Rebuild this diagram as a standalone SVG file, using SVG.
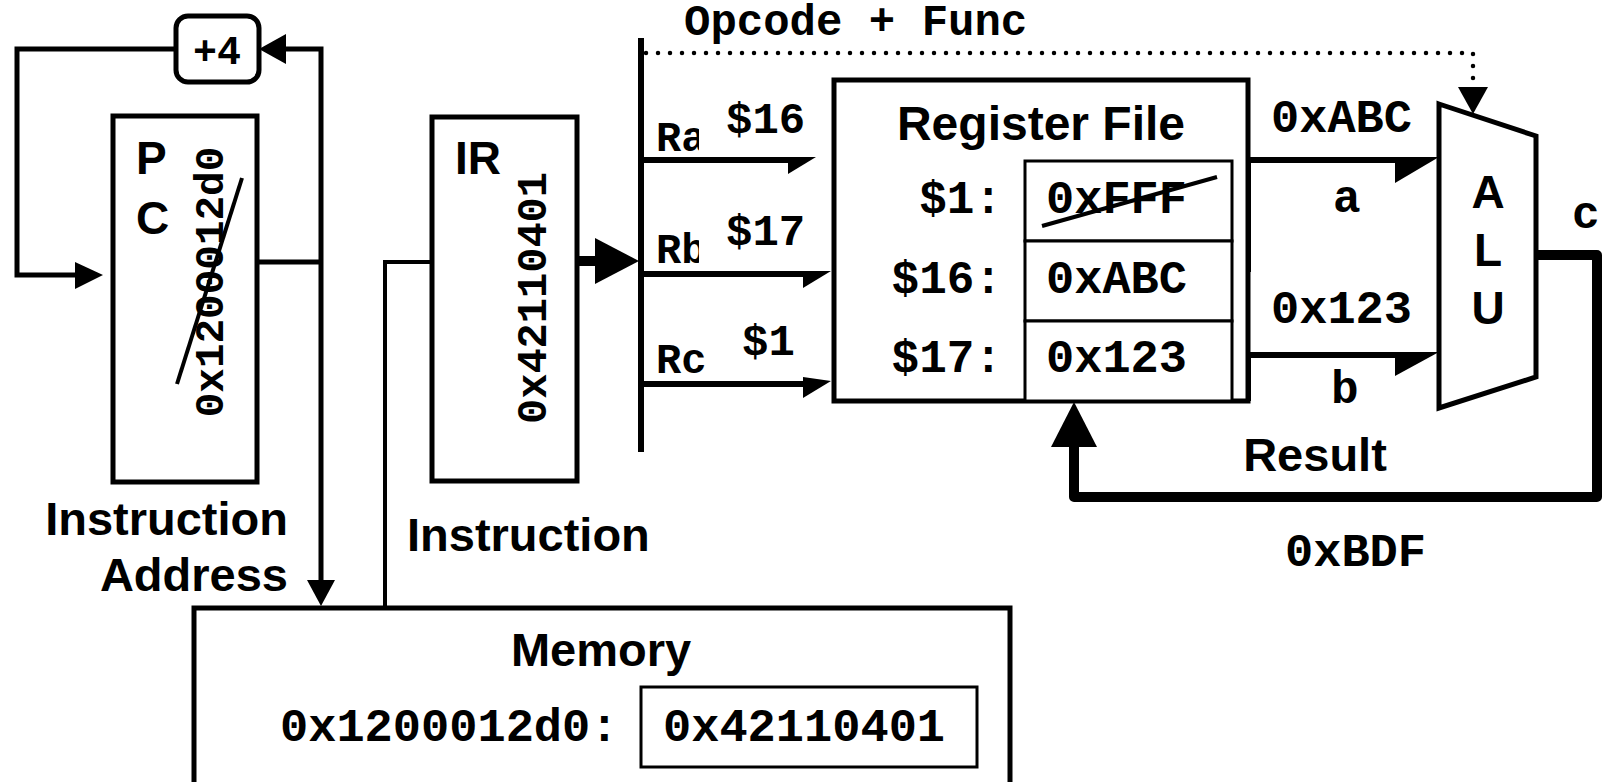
<svg xmlns="http://www.w3.org/2000/svg" width="1604" height="782" viewBox="0 0 1604 782">
<style>
  .box{fill:#fff;stroke:#000;stroke-width:5}
  .cell{fill:#fff;stroke:#000;stroke-width:3}
  .wire{fill:none;stroke:#000;stroke-width:5}
  .thin{fill:none;stroke:#000;stroke-width:4}
  .bus{fill:none;stroke:#000;stroke-width:6}
  .wide{fill:none;stroke:#000;stroke-width:10;stroke-linejoin:round}
  .dots{fill:none;stroke:#000;stroke-width:4.5;stroke-linecap:round;stroke-dasharray:0 12}
  .head{fill:#000;stroke:none}
  .strike{stroke:#000;stroke-width:4}
  .mask{fill:#fff;stroke:none}
  .mono{font-family:"Liberation Mono","Courier New",monospace;font-weight:bold;fill:#000}
  .sans{font-family:"Liberation Sans",Arial,sans-serif;font-weight:bold;fill:#000}
</style>
<rect width="1604" height="782" fill="#fff"/>

<!-- wiring -->
<g id="connectors">
  <!-- PC increment loop -->
  <path class="wire" d="M176,49 H17 V275 H80"/>
  <polygon class="head" points="103,275 75,262 75,289"/>
  <path class="wire" d="M257,262 H321 M286,49 H321 V584"/>
  <polygon class="head" points="259,49 286,34 286,64"/>
  <polygon class="head" points="321,606 307,580 335,580"/>
  <!-- memory to IR -->
  <path class="thin" d="M432,262 H385 V608"/>
  <!-- IR to field bus -->
  <path class="wide" d="M577,261 H600"/>
  <polygon class="head" points="639,261 595,238 595,284"/>
  <path class="bus" d="M641,38 V452"/>
  <!-- control to ALU -->
  <path class="dots" d="M646,53 H1473 V84"/>
  <polygon class="head" points="1473,114 1458,87 1488,87"/>
  <!-- register selects -->
  <path class="bus" d="M641,160 H800"/>
  <polygon class="head" points="816,157 788,157 788,174"/>
  <path class="bus" d="M641,274 H815"/>
  <polygon class="head" points="831,271 803,271 803,288"/>
  <path class="bus" d="M641,384 H815"/>
  <polygon class="head" points="831,381 803,377 803,398"/>
  <!-- operands -->
  <path class="bus" d="M1248,272 V160 H1420"/>
  <polygon class="head" points="1439,157 1395,157 1395,183"/>
  <path class="bus" d="M1248,401 V355 H1420"/>
  <polygon class="head" points="1439,352 1395,352 1395,376"/>
  <!-- write-back -->
  <path class="wide" d="M1537,255 H1597 V497 H1074 V440"/>
  <polygon class="head" points="1074,402 1051,447 1097,447"/>
</g>

<g id="inc4">
  <rect class="box" x="176" y="16" width="83" height="66" rx="12"/>
  <text class="mono" x="217" y="64" font-size="40" text-anchor="middle">+4</text>
</g>

<g id="pc">
  <rect class="box" x="113" y="116" width="144" height="366"/>
  <text class="sans" x="136" y="174" font-size="46">P</text>
  <text class="sans" x="136" y="234" font-size="46">C</text>
  <text class="mono" x="223" y="282" font-size="41" text-anchor="middle" transform="rotate(-90 223 282)">0x1200012d0</text>
  <line class="strike" x1="177" y1="384" x2="242" y2="178"/>
</g>

<g id="ir">
  <rect class="box" x="432" y="117" width="145" height="364"/>
  <text class="sans" x="455" y="174" font-size="46">IR</text>
  <text class="mono" x="546" y="298" font-size="42" text-anchor="middle" transform="rotate(-90 546 298)">0x42110401</text>
</g>

<g id="fields">
  <text class="mono" x="656" y="151" font-size="42">Ra</text>
  <text class="mono" x="656" y="263" font-size="42">Rb</text>
  <text class="mono" x="656" y="373" font-size="42">Rc</text>
  <rect class="mask" x="699" y="95" width="110" height="59"/>
  <rect class="mask" x="699" y="205" width="110" height="63"/>
  <text class="mono" x="726" y="133" font-size="44">$16</text>
  <text class="mono" x="726" y="245" font-size="44">$17</text>
  <text class="mono" x="742" y="355" font-size="44">$1</text>
  <text class="mono" x="684" y="35" font-size="44">Opcode + Func</text>
</g>

<g id="regfile">
  <rect class="box" x="834" y="80" width="414" height="321"/>
  <text class="sans" x="1041" y="140" font-size="48" text-anchor="middle">Register File</text>
  <rect class="cell" x="1025" y="161" width="207" height="80"/>
  <rect class="cell" x="1025" y="241" width="207" height="80"/>
  <rect class="cell" x="1025" y="321" width="207" height="80"/>
  <text class="mono" x="1002" y="213" font-size="46" text-anchor="end">$1:</text>
  <text class="mono" x="1002" y="293" font-size="46" text-anchor="end">$16:</text>
  <text class="mono" x="1002" y="372" font-size="46" text-anchor="end">$17:</text>
  <text class="mono" x="1046" y="213" font-size="47">0xFFF</text>
  <text class="mono" x="1046" y="293" font-size="47">0xABC</text>
  <text class="mono" x="1046" y="372" font-size="47">0x123</text>
  <line class="strike" x1="1042" y1="226" x2="1217" y2="177"/>
</g>

<g id="alu">
  <polygon class="box" points="1439,104 1536,136 1536,377 1439,408"/>
  <text class="sans" x="1488" y="208" font-size="46" text-anchor="middle">A</text>
  <text class="sans" x="1488" y="266" font-size="46" text-anchor="middle">L</text>
  <text class="sans" x="1488" y="324" font-size="46" text-anchor="middle">U</text>
</g>

<g id="alu-labels">
  <text class="mono" x="1271" y="132" font-size="47">0xABC</text>
  <text class="mono" x="1333" y="212" font-size="46">a</text>
  <text class="mono" x="1271" y="323" font-size="47">0x123</text>
  <text class="mono" x="1331" y="403" font-size="46">b</text>
  <text class="mono" x="1572" y="228" font-size="46">c</text>
  <text class="sans" x="1315" y="471" font-size="47" text-anchor="middle">Result</text>
  <text class="mono" x="1285" y="566" font-size="47">0xBDF</text>
</g>

<g id="bus-labels">
  <text class="sans" x="288" y="535" font-size="47" text-anchor="end">Instruction</text>
  <text class="sans" x="288" y="591" font-size="47" text-anchor="end">Address</text>
  <text class="sans" x="407" y="551" font-size="47">Instruction</text>
</g>

<g id="memory">
  <rect class="box" x="194" y="608" width="816" height="200"/>
  <text class="sans" x="601" y="666" font-size="47" text-anchor="middle">Memory</text>
  <text class="mono" x="280" y="741" font-size="47">0x1200012d0:</text>
  <rect class="cell" x="641" y="687" width="336" height="80"/>
  <text class="mono" x="663" y="741" font-size="47">0x42110401</text>
</g>
</svg>
